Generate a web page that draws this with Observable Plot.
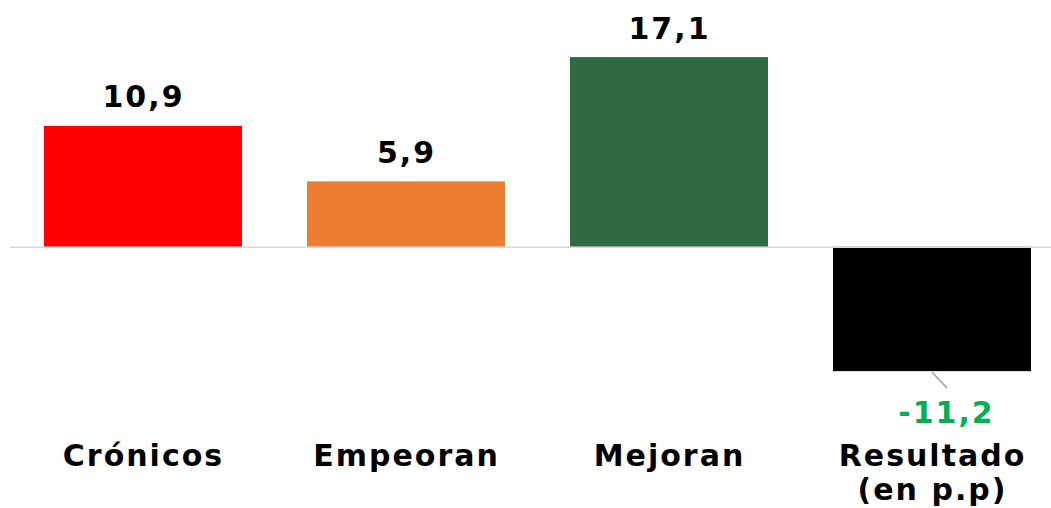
<!DOCTYPE html>
<html>
<head>
<meta charset="utf-8">
<script src="https://cdn.jsdelivr.net/npm/d3@7"></script>
<script src="https://cdn.jsdelivr.net/npm/@observablehq/plot@0.6"></script>
<style>
  html, body { margin: 0; padding: 0; background: #fff; }
</style>
</head>
<body>
<div id="chart"></div>
<script>
const categories = ["Crónicos", "Empeoran", "Mejoran", "Resultado"];
const tickLabels = ["Crónicos", "Empeoran", "Mejoran", "Resultado\n(en p.p)"];
const values = [10.9, 5.9, 17.1, -11.2];
const barColors = ["#FF0000", "#ED7D31", "#2F6A41", "#000000"];

const data = categories.map((c, i) => ({cat: c, value: values[i], color: barColors[i], label: values[i].toFixed(1).replace(".", ",")}));
const pos = data.filter(d => d.value >= 0);
const neg = data.filter(d => d.value < 0);

const chart = Plot.plot({
  width: 1051,
  height: 508,
  marginLeft: 42,
  marginRight: 18,
  marginTop: 36,
  marginBottom: 128,
  style: {fontFamily: "DejaVu Sans", letterSpacing: "2px", background: "#fff"},
  x: {domain: categories, paddingInner: 0.246, paddingOuter: 0, label: null},
  y: {domain: [-12, 19], axis: null},
  marks: [
    Plot.barY(data, {x: "cat", y: "value", fill: "color"}),
    Plot.ruleY([0], {stroke: "#D9D9D9", strokeWidth: 1.5, insetLeft: -32, insetRight: -18}),
    Plot.text(pos, {x: "cat", y: "value", text: "label", lineAnchor: "bottom", dy: -19, fontSize: 30, fontWeight: "bold", fill: "#000"}),
    Plot.vector(neg, {x: "cat", y: "value", length: 20.5, rotate: 137, anchor: "start", shape: "arrow", r: 0, stroke: "#A6A6A6", strokeWidth: 1.5, dy: 1}),
    Plot.text(neg, {x: "cat", y: "value", text: "label", lineAnchor: "top", dy: 30, dx: 14, fontSize: 30, fontWeight: "bold", fill: "#00B050"}),
    Plot.axisX({tickSize: 0, tickPadding: 61, fontSize: 30, lineHeight: 1.15, fontWeight: "bold", color: "#000", tickFormat: (d) => tickLabels[categories.indexOf(d)], label: null})
  ]
});
document.getElementById("chart").append(chart);
</script>
</body>
</html>
